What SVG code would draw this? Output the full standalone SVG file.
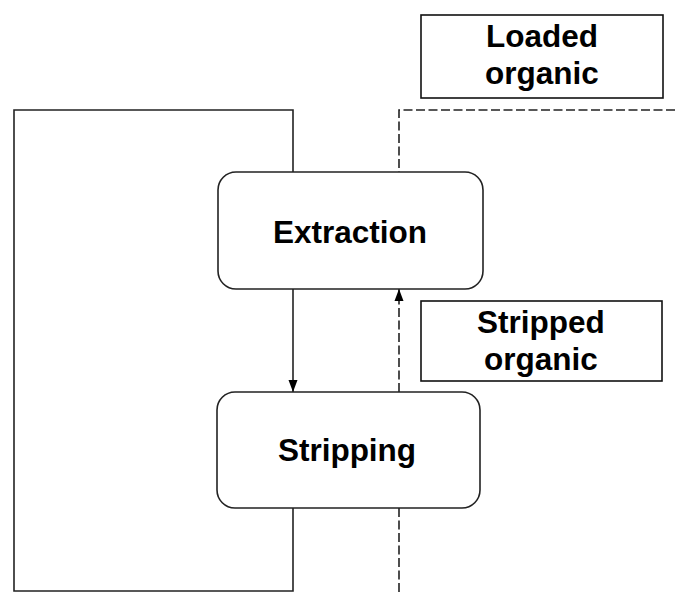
<svg xmlns="http://www.w3.org/2000/svg" width="675" height="593" viewBox="0 0 675 593">
<style>
.box{fill:#fff;stroke:#222;stroke-width:1.6}
.lbl{fill:#fff;stroke:#111;stroke-width:1.6}
.t{font-family:"Liberation Sans",Arial,sans-serif;font-weight:bold;font-size:31.5px;fill:#000;text-anchor:middle}
.ln{fill:none;stroke:#222;stroke-width:1.6}
.dash{fill:none;stroke:#222;stroke-width:1.6;stroke-dasharray:9 3.5}
</style>
<defs>
<marker id="ah" viewBox="0 0 12 10" refX="12" refY="5" markerWidth="12" markerHeight="10" markerUnits="userSpaceOnUse" orient="auto">
<path d="M0,0.5 L12,5 L0,9.5 Z" fill="#000"/>
</marker>
</defs>
<rect width="675" height="593" fill="#fff"/>
<g id="connectors">
<path class="ln" d="M293,172 V110 H14 V591 H293 V508"/>
<path class="ln" d="M293,289 V392" marker-end="url(#ah)"/>
<path class="dash" d="M399,392 V289" marker-end="url(#ah)"/>
<path class="dash" d="M675,110 H399 V172"/>
<path class="dash" d="M399,508 V593"/>
</g>
<g id="extraction">
<rect class="box" x="218" y="172" width="265" height="117" rx="18"/>
<text class="t" x="350" y="243">Extraction</text>
</g>
<g id="stripping">
<rect class="box" x="217" y="392" width="263" height="116" rx="18"/>
<text class="t" x="347" y="461">Stripping</text>
</g>
<g id="loaded-organic">
<rect class="lbl" x="421" y="15" width="242" height="83"/>
<text class="t" x="542" y="47">Loaded</text>
<text class="t" x="542" y="84">organic</text>
</g>
<g id="stripped-organic">
<rect class="lbl" x="421" y="301" width="241" height="80"/>
<text class="t" x="541" y="333">Stripped</text>
<text class="t" x="541" y="370">organic</text>
</g>
</svg>
